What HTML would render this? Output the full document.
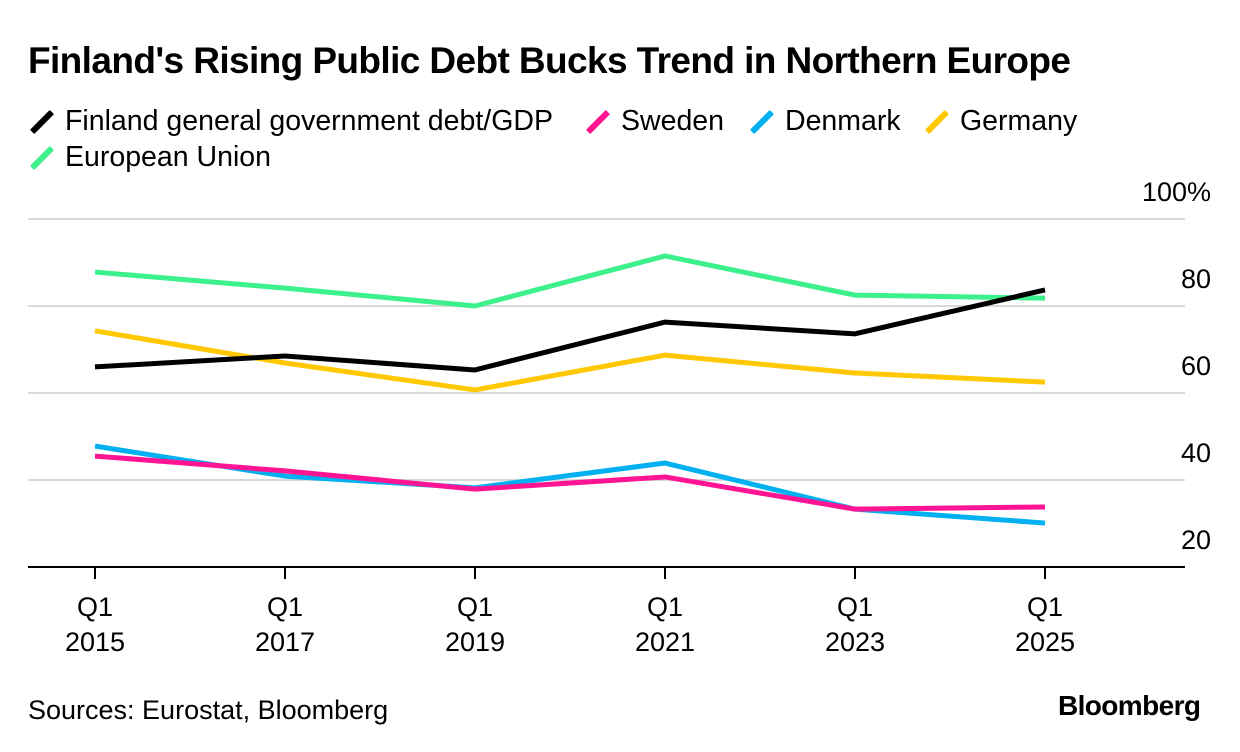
<!DOCTYPE html>
<html><head><meta charset="utf-8">
<style>
body{margin:0;background:#fff;width:1240px;height:752px;overflow:hidden;font-family:"Liberation Sans",sans-serif;color:#000}
#title{position:absolute;left:28px;top:40px;font-size:37px;font-weight:bold;letter-spacing:-0.6px}
.leg{position:absolute;font-size:28.5px;display:flex;align-items:center}
.sw{display:inline-block;width:28px;height:6px;transform:rotate(-45deg);margin-right:9px;border-radius:1px}
#src{position:absolute;left:28px;top:695px;font-size:27px}
#logo{position:absolute;left:1058px;top:690px;font-size:28px;font-weight:bold;letter-spacing:-0.6px}
svg{position:absolute;left:0;top:0}
</style></head><body>
<div id="title">Finland's Rising Public Debt Bucks Trend in Northern Europe</div>
<div class="leg" style="left:28px;top:105px"><span class="sw" style="background:#000"></span>Finland general government debt/GDP</div>
<div class="leg" style="left:584px;top:105px"><span class="sw" style="background:#ff1493"></span>Sweden</div>
<div class="leg" style="left:748px;top:105px"><span class="sw" style="background:#00b0f0"></span>Denmark</div>
<div class="leg" style="left:923px;top:105px"><span class="sw" style="background:#ffc800"></span>Germany</div>
<div class="leg" style="left:28px;top:141px"><span class="sw" style="background:#3cf08c"></span>European Union</div>
<svg id="chart" width="1240" height="752"></svg>
<div id="src">Sources: Eurostat, Bloomberg</div>
<div id="logo">Bloomberg</div>
<script>
const categories=["2015","2017","2019","2021","2023","2025"];
const finland=[66.0,68.5,65.3,76.3,73.6,83.7];
const sweden=[45.5,42.1,37.9,40.7,33.3,33.8];
const denmark=[47.8,40.9,38.2,43.9,33.3,30.1];
const germany=[74.3,66.9,60.7,68.7,64.6,62.5];
const eu=[87.8,84.1,80.0,91.5,82.5,81.8];
const yTicks=[20,40,60,80,100];
const NS="http://www.w3.org/2000/svg";
const svg=document.getElementById('chart');
const x=i=>95+i*190;
const y=v=>567-(v-20)*87/20;
function mk(t,a){const e=document.createElementNS(NS,t);for(const k in a)e.setAttribute(k,a[k]);svg.appendChild(e);return e;}
yTicks.forEach(v=>{
  if(v>20){const g=mk('line',{x1:28,x2:1185,y1:y(v),y2:y(v),stroke:'#d9d9d9','stroke-width':2});
  
  }
  const t=mk('text',{x:1211,y:y(v)-18,'text-anchor':'end','font-size':27,'font-family':'Liberation Sans, sans-serif'});
  t.textContent=v===100?'100%':String(v);
  
  
});
const ax=mk('line',{x1:28,x2:1185,y1:567,y2:567,stroke:'#000','stroke-width':2});


categories.forEach((c,i)=>{
  const tk=mk('line',{x1:x(i),x2:x(i),y1:567,y2:579,stroke:'#000','stroke-width':2});
  
  
  const t1=mk('text',{x:x(i),y:616,'text-anchor':'middle','font-size':27,'font-family':'Liberation Sans, sans-serif'});
  t1.textContent='Q1';
  
  
  const t2=mk('text',{x:x(i),y:651,'text-anchor':'middle','font-size':27,'font-family':'Liberation Sans, sans-serif'});
  t2.textContent=c;
  
  
});
[[eu,'#3cf08c','eu'],[germany,'#ffc800','germany'],[denmark,'#00b0f0','denmark'],[sweden,'#ff1493','sweden'],[finland,'#000','finland']].forEach(([d,c,n])=>{
  const p=mk('polyline',{points:d.map((v,i)=>x(i)+','+y(v)).join(' '),fill:'none',stroke:c,'stroke-width':5,'stroke-linejoin':'round'});
  
  
});
</script>
</body></html>
